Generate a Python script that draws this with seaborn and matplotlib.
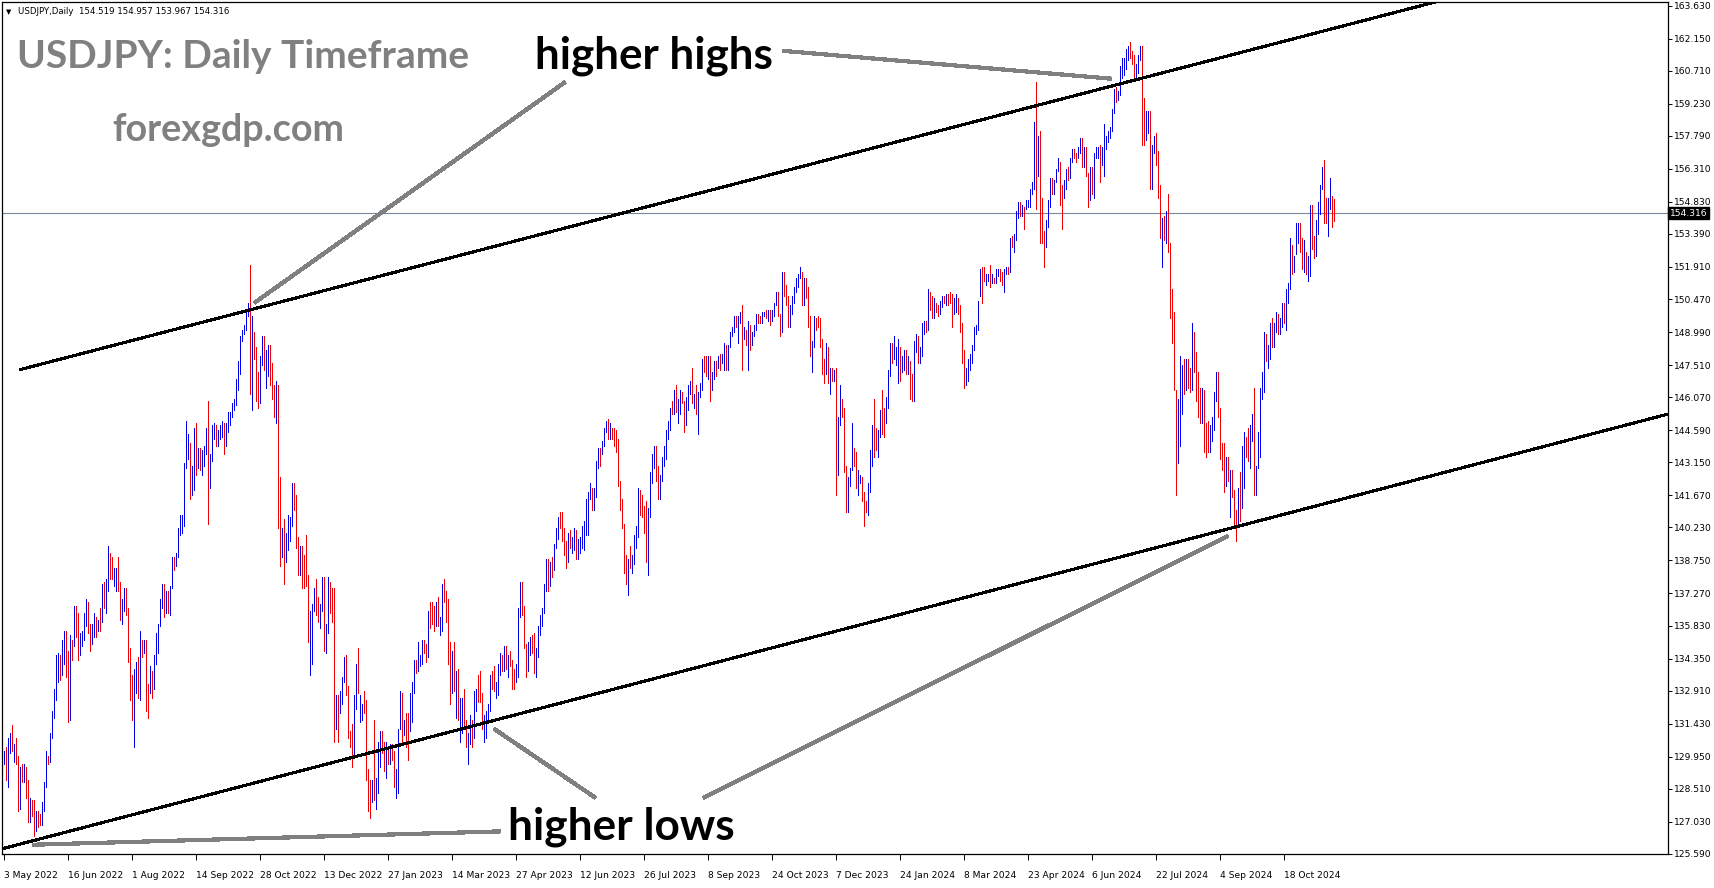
"""USDJPY daily bar chart with a rising channel, MT4 look."""

import matplotlib

matplotlib.use("Agg")

import matplotlib.pyplot as plt
import matplotlib.transforms as mtransforms
import numpy as np
import pandas as pd
import seaborn as sns

# daily highs / lows, one row per month (weekdays as the broker prints them)
highs_2022 = [
    130.2, 130.4, 130.8, 131.0, 131.35, 130.5, 130.8, 130.0, 129.5, 129.6, 129.6, 129.5, 128.9, 128.1, 128.0, 128.0, 127.5, 127.5, 127.4, 127.9, 128.8,
    130.2, 130.0, 131.0, 132.0, 133.0, 134.5, 134.6, 134.5, 135.2, 135.6, 135.6, 134.7, 135.4, 135.2, 136.7, 136.7, 136.4, 135.5, 135.6, 136.4, 137.0, 136.9,
    135.9, 135.9, 136.4, 136.2, 136.1, 136.6, 137.7, 137.8, 137.9, 139.4, 139.1, 138.9, 138.4, 138.4, 138.9, 137.8, 137.0, 137.5, 137.5, 136.6, 134.8,
    133.6, 133.9, 134.2, 134.4, 135.6, 135.2, 135.2, 135.2, 133.2, 134.0, 133.8, 134.5, 135.5, 135.9, 137.0, 137.7, 137.7, 137.4, 137.4, 137.6, 138.9, 138.9, 139.1,
    140.2, 140.8, 140.8, 143.1, 145.0, 144.4, 144.0, 143.0, 144.7, 144.9, 143.8, 143.8, 143.7, 143.9, 144.7, 145.9, 143.5, 144.8, 144.9, 144.8, 144.6, 144.8,
    145.0, 144.9, 144.9, 145.4, 145.4, 145.8, 146.0, 146.9, 147.7, 148.8, 149.1, 149.3, 149.9, 150.3, 152.0, 149.7, 149.0, 148.3, 147.2, 147.9, 148.8,
    148.8, 148.2, 148.4, 148.4, 147.6, 146.6, 146.8, 146.6, 142.5, 140.2, 140.6, 140.0, 140.8, 140.7, 142.2, 142.2, 141.7, 139.8, 139.4, 139.4, 139.0, 139.9,
    138.1, 136.5, 136.8, 137.5, 137.9, 137.1, 136.8, 138.0, 138.0, 135.9, 138.0, 137.8, 137.5, 137.5, 132.7, 132.7, 132.9, 133.5, 134.4, 134.5, 133.1,
]
lows_2022 = [
    129.6, 128.9, 128.6, 130.1, 130.2, 129.7, 129.6, 127.5, 127.6, 128.8, 128.8, 128.1, 127.0, 127.0, 127.3, 126.4, 126.6, 126.8, 126.9, 126.9, 127.5,
    128.6, 129.6, 129.7, 130.8, 131.7, 132.5, 133.3, 133.4, 133.6, 134.1, 133.5, 131.5, 131.6, 134.3, 134.9, 135.3, 134.3, 134.5, 134.9, 135.2, 135.8, 135.5,
    134.7, 135.0, 135.3, 135.3, 135.6, 135.6, 136.0, 136.6, 136.4, 137.4, 137.9, 137.9, 137.6, 137.4, 137.4, 136.1, 135.9, 136.5, 136.3, 134.2, 132.5,
    131.6, 130.4, 132.8, 132.6, 132.5, 134.4, 134.6, 132.0, 131.7, 132.8, 132.6, 133.0, 134.1, 134.6, 135.8, 136.6, 136.2, 136.4, 136.4, 136.3, 137.5, 138.3, 138.5,
    138.9, 139.9, 140.0, 140.3, 142.9, 143.3, 141.5, 141.7, 141.9, 142.6, 142.9, 142.8, 142.6, 143.0, 143.5, 140.4, 142.0, 143.2, 144.2, 143.9, 143.9, 144.2,
    144.3, 143.5, 143.9, 144.5, 144.8, 145.2, 145.5, 145.7, 146.4, 147.1, 148.6, 148.9, 149.1, 149.7, 146.2, 145.5, 147.8, 145.9, 145.6, 145.8, 147.5,
    147.3, 146.5, 147.0, 146.6, 146.0, 145.2, 144.9, 140.2, 138.5, 138.9, 137.7, 138.7, 139.2, 139.6, 140.3, 141.0, 139.3, 138.1, 138.1, 137.5, 137.5, 137.6,
    135.1, 133.6, 134.1, 136.5, 136.3, 136.0, 135.7, 136.5, 134.7, 134.6, 135.5, 136.4, 136.0, 130.6, 131.2, 130.6, 131.9, 132.3, 133.3, 132.7, 130.8,
]
updown_2022 = """
u d u u d u d d u d u d d u d d u d d u u
u d u u u u u d u u d d u d u d d u u u u d
d u u d u d u d u u d d u u d d u u d d d
d u u d u d u d d u d u u u u u d u d u u d u
u u u u u u d u u d u d u u u d u u u d u u
u d u u u u u u u u u u u u d u d d d u u
d u u d d d u d d u d u u u u d d d u d d d
d u u u d d u u d u u d d d u d u u u d d
"""

highs_2023 = [
    131.1, 131.4, 132.7, 134.1, 134.8, 132.7, 132.3, 132.9, 132.5, 129.4, 128.9, 128.9, 131.6, 129.0, 130.6, 131.1, 131.1, 130.6, 130.6, 130.4, 130.5, 130.5,
    130.2, 129.4, 131.2, 132.9, 132.8, 131.6, 131.9, 131.9, 132.8, 133.3, 134.3, 134.3, 135.1, 134.5, 135.2, 135.2, 135.0, 136.5, 136.9, 136.9,
    136.7, 136.9, 137.1, 136.2, 137.7, 137.9, 137.4, 137.0, 135.1, 134.7, 135.1, 133.8, 133.9, 132.6, 132.6, 133.0, 131.6, 131.0, 131.8, 131.6, 132.9, 133.0, 133.6,
    133.8, 132.8, 131.8, 132.0, 132.3, 133.6, 133.8, 134.0, 133.3, 134.1, 134.6, 134.5, 134.9, 134.9, 134.5, 134.7, 134.3, 133.9, 134.1, 136.6,
    137.8, 137.8, 136.7, 135.0, 135.1, 135.3, 135.4, 135.5, 134.8, 135.8, 136.3, 136.6, 137.7, 138.8, 138.8, 138.7, 138.9, 139.5, 140.2, 140.7, 140.9, 140.9, 140.2,
    139.6, 140.0, 140.1, 139.8, 140.2, 140.1, 139.7, 139.8, 140.3, 140.5, 141.5, 141.8, 142.2, 142.0, 142.0, 143.2, 143.8, 143.8, 144.1, 144.7, 145.0, 145.1,
    144.9, 144.7, 144.7, 144.6, 144.2, 142.3, 141.5, 140.4, 139.0, 138.8, 139.4, 139.0, 139.9, 140.3, 142.0, 141.9, 141.7, 141.2, 141.4, 141.1, 142.7,
    143.5, 143.9, 143.9, 143.0, 142.6, 143.4, 143.9, 144.6, 145.0, 145.6, 145.9, 146.4, 146.6, 146.0, 146.4, 146.3, 145.9, 146.1, 146.6, 146.8, 147.4, 146.2, 146.6,
    146.3, 146.7, 147.8, 147.9, 147.9, 147.9, 147.9, 147.2, 147.7, 147.7, 147.9, 148.0, 148.0, 148.5, 148.4, 148.4, 149.0, 149.2, 149.7, 149.7, 149.7,
    149.9, 150.2, 149.2, 149.1, 149.5, 149.3, 149.0, 149.3, 149.8, 149.8, 149.7, 149.9, 149.9, 150.0, 150.0, 150.0, 150.0, 150.3, 150.8, 150.8, 149.8, 151.7,
    151.7, 151.1, 150.6, 150.2, 150.6, 151.0, 151.4, 151.6, 151.9, 151.7, 151.4, 151.4, 151.0, 149.7, 148.6, 149.7, 149.6, 149.7, 149.6, 148.7, 147.8, 148.5,
    148.3, 147.4, 147.4, 147.3, 147.4, 145.2, 146.6, 146.0, 145.6, 143.0, 142.5, 142.9, 144.9, 143.8, 143.6, 142.8, 142.6, 142.5, 141.8, 141.4,
]
lows_2023 = [
    130.4, 129.5, 129.9, 132.1, 132.8, 131.5, 131.6, 131.9, 128.9, 127.5, 127.2, 127.9, 128.0, 127.6, 128.3, 129.5, 130.1, 129.3, 129.0, 129.6, 129.6, 129.8,
    128.6, 128.1, 128.3, 131.2, 130.5, 130.9, 130.4, 129.8, 131.1, 131.5, 132.8, 133.7, 133.8, 134.0, 134.1, 134.6, 134.2, 134.4, 135.7, 135.9,
    135.6, 135.8, 135.8, 135.4, 135.6, 136.9, 136.0, 134.1, 132.3, 132.8, 132.9, 131.7, 131.6, 130.6, 131.0, 131.3, 130.4, 129.6, 130.5, 130.4, 130.8, 132.0, 132.4,
    132.4, 131.2, 130.6, 130.8, 131.5, 132.0, 133.0, 132.9, 132.6, 132.7, 133.6, 133.8, 133.8, 133.9, 133.5, 134.0, 133.0, 133.0, 133.3, 133.5,
    136.2, 136.3, 134.8, 133.5, 133.8, 134.5, 134.6, 133.7, 133.5, 134.4, 135.4, 135.8, 136.4, 137.4, 137.4, 137.6, 138.0, 138.3, 139.3, 139.7, 140.2, 139.6, 139.0,
    138.4, 138.7, 139.3, 139.1, 139.2, 138.8, 138.8, 139.1, 139.3, 139.2, 139.9, 139.9, 141.5, 141.0, 141.0, 141.6, 142.9, 143.0, 143.5, 143.9, 144.5, 144.2,
    144.2, 144.2, 143.9, 143.6, 142.1, 141.0, 140.2, 138.2, 137.7, 137.2, 138.4, 138.2, 138.6, 139.3, 139.8, 140.8, 140.7, 140.0, 138.7, 138.1, 140.7,
    142.2, 142.9, 142.3, 141.5, 141.5, 142.3, 143.0, 143.3, 144.2, 144.6, 145.3, 145.3, 145.4, 144.9, 145.3, 145.8, 144.5, 144.8, 145.5, 146.2, 145.8, 145.6, 145.3,
    144.4, 146.1, 146.4, 147.2, 147.0, 146.9, 145.9, 146.4, 146.9, 147.0, 147.4, 147.3, 147.6, 147.3, 147.3, 147.3, 148.3, 148.8, 149.0, 149.2, 148.5,
    149.4, 147.3, 148.7, 148.4, 147.3, 148.2, 148.4, 148.8, 149.1, 149.4, 149.4, 149.4, 149.7, 149.6, 149.5, 149.3, 149.5, 149.7, 150.2, 149.7, 148.8, 149.0,
    150.6, 150.2, 149.2, 149.2, 149.8, 150.3, 150.8, 151.0, 151.4, 150.2, 150.2, 150.5, 149.2, 147.9, 147.2, 148.3, 149.1, 149.2, 148.3, 147.1, 146.7, 147.1,
    146.7, 146.2, 146.8, 146.8, 141.7, 142.6, 144.8, 145.2, 142.7, 140.9, 140.9, 142.1, 142.8, 143.0, 142.0, 141.7, 142.2, 141.4, 140.3, 140.9,
]
updown_2023 = """
d d u u d u u d d d d u d u u u d d u d u d
d u u u d u d d u u u d u u u d d u d d
d u d u u d d d d u d u d u u d d u u d u u d
d d u u u u d d u u u d u d u d d d u u
u d d d u u d d u u u u u u d u d u u u d d d
d u d u u d u u u u u u u d u u u d u u u d
u d d d d d d d d u d u u u u d d d d u u
u u d d u u u u u u d u d u u d d u u u d u d
u u u d d u d u u d u d u u d u u u u d u
u d u d u d u u u d d u u d u d u u u d d u
d d d u u u u u u d u d d d u u d d d d d u
d u d u d u u d d d u u u d d u u d d d
"""

highs_2024 = [
    142.2, 143.7, 144.8, 146.0, 144.7, 144.6, 145.5, 146.4, 145.6, 146.1, 147.3, 148.5, 148.5, 148.8, 148.3, 148.7, 148.3, 147.9, 148.2, 148.2, 147.9, 147.7,
    147.1, 148.6, 148.9, 148.8, 148.3, 149.4, 149.5, 149.5, 150.9, 150.8, 150.6, 150.5, 150.3, 150.2, 150.4, 150.6, 150.6, 150.7, 150.7, 150.8, 150.7,
    150.5, 150.7, 150.5, 150.2, 149.4, 148.2, 147.4, 147.8, 148.0, 148.4, 149.2, 149.3, 150.4, 151.8, 151.9, 151.9, 151.6, 151.6, 152.0, 151.6, 151.4,
    151.8, 151.8, 151.8, 151.7, 151.8, 151.9, 151.9, 153.2, 153.3, 153.4, 154.4, 154.8, 154.8, 154.7, 154.6, 154.9, 154.9, 155.4, 155.7, 158.4, 160.2, 157.8,
    158.0, 155.0, 153.5, 154.0, 154.9, 155.9, 155.9, 155.8, 156.3, 156.8, 156.6, 155.6, 155.8, 156.3, 156.4, 156.8, 157.2, 157.2, 157.0, 157.3, 157.7, 157.7, 157.3,
    157.3, 156.1, 156.4, 156.4, 157.0, 157.3, 157.3, 157.4, 157.3, 158.3, 157.8, 158.0, 158.2, 159.0, 159.9, 160.0, 159.8, 160.9, 161.3, 161.3,
    161.7, 161.8, 162.0, 161.6, 161.4, 161.0, 161.4, 161.8, 161.8, 159.5, 158.9, 158.9, 158.9, 157.4, 157.8, 157.9, 157.1, 155.6, 154.1, 154.2, 154.4, 155.2, 153.0,
    150.9, 149.9, 146.4, 146.0, 147.9, 147.5, 147.8, 147.8, 147.8, 147.4, 149.4, 149.0, 148.1, 147.2, 146.5, 146.5, 146.4, 144.9, 145.0, 144.8, 145.2, 146.3,
    147.2, 147.2, 145.6, 144.0, 144.0, 143.4, 143.4, 142.8, 142.8, 141.9, 141.0, 142.0, 142.7, 143.9, 144.5, 144.3, 144.7, 144.8, 145.3, 146.5, 143.0,
    144.5, 146.5, 147.2, 149.0, 148.9, 148.4, 149.4, 149.6, 149.4, 149.9, 149.8, 149.6, 150.3, 150.3, 150.9, 151.2, 153.2, 152.9, 152.4, 153.9, 153.9, 153.9, 153.2,
    153.1, 152.6, 152.4, 154.7, 154.7, 153.3, 154.0, 154.8, 155.6, 156.4, 156.7, 155.0, 155.0, 155.9, 155.1, 154.957,
]
lows_2024 = [
    140.8, 141.8, 143.0, 143.4, 143.7, 143.4, 144.3, 144.4, 144.3, 144.9, 145.6, 147.0, 147.6, 147.8, 147.5, 146.7, 146.8, 147.2, 147.3, 147.1, 147.1, 146.0,
    145.9, 145.9, 148.1, 147.6, 147.6, 147.9, 148.9, 149.0, 149.1, 150.0, 149.6, 149.6, 149.9, 149.7, 149.8, 150.1, 150.3, 150.2, 150.2, 150.3, 149.2,
    149.8, 149.9, 149.8, 149.0, 147.6, 146.5, 146.6, 146.8, 147.3, 147.6, 148.2, 148.9, 149.1, 150.6, 150.3, 151.3, 151.1, 151.3, 151.0, 151.2, 151.2,
    151.2, 151.5, 151.3, 151.1, 150.8, 151.6, 151.6, 151.7, 152.8, 152.6, 153.1, 154.1, 154.2, 154.2, 153.6, 154.5, 154.6, 154.6, 155.2, 155.4, 154.5, 156.0,
    153.0, 153.0, 151.9, 152.8, 153.7, 154.6, 155.2, 155.2, 155.7, 156.2, 154.7, 153.6, 155.0, 155.4, 155.8, 155.9, 156.6, 156.8, 156.6, 156.8, 157.0, 156.4, 156.4,
    156.0, 154.6, 154.9, 155.2, 155.0, 156.8, 156.8, 155.7, 156.5, 156.0, 157.2, 157.5, 157.7, 158.0, 158.8, 159.3, 159.4, 159.6, 160.4, 160.5,
    160.8, 161.2, 161.3, 161.0, 160.3, 160.3, 160.6, 161.2, 157.4, 157.4, 157.6, 157.9, 155.4, 155.4, 157.0, 156.5, 155.0, 153.2, 151.9, 153.1, 153.0, 152.6, 149.6,
    148.5, 146.4, 141.7, 143.1, 143.9, 145.3, 146.2, 146.4, 146.5, 146.3, 146.4, 147.2, 145.9, 145.2, 144.9, 144.9, 143.6, 143.4, 143.6, 143.6, 144.1, 144.6,
    145.9, 145.2, 143.3, 142.8, 141.8, 142.1, 142.3, 140.7, 141.6, 140.3, 139.6, 140.4, 140.5, 141.1, 142.0, 143.4, 143.2, 142.9, 144.1, 141.7, 141.7,
    142.9, 143.4, 146.0, 146.3, 147.7, 147.4, 147.8, 148.3, 148.3, 149.0, 148.9, 148.9, 149.2, 149.4, 149.1, 150.3, 150.9, 151.6, 151.7, 152.5, 153.0, 152.6, 151.8,
    151.7, 151.6, 151.3, 151.5, 152.7, 152.3, 152.4, 153.4, 154.3, 155.4, 153.9, 153.9, 153.3, 154.5, 153.7, 153.967,
]
updown_2024 = """
u u u d d u u d d u u u d u u u d u u d u d
d u u d u u u d u d d u d d u u d u d d d
u u d d d d u u u u u u u u d d u u d u d
u u d d u u d u d u u u d u d u u u u u d u
d d d u u u d u u u d d u u d u u d d u u d u
d d u d u u u d u u u u u u u d u u u u
u u d d d u u u d d u u d u u d d d u d u d d
d d d u u u d u d d u d d d d u d d d u u u
u d d d d u d u d d d u d u u d d u u d u
u u u u d u u d u u d u u d u u u d u u u d d
u d u u d d u u u u d d u u d d
"""

date_labels = [
    "3 May 2022", "16 Jun 2022", "1 Aug 2022", "14 Sep 2022", "28 Oct 2022", "13 Dec 2022",
    "27 Jan 2023", "14 Mar 2023", "27 Apr 2023", "12 Jun 2023", "26 Jul 2023", "8 Sep 2023",
    "24 Oct 2023", "7 Dec 2023", "24 Jan 2024", "8 Mar 2024", "23 Apr 2024", "6 Jun 2024",
    "22 Jul 2024", "4 Sep 2024", "18 Oct 2024",
]
price_ticks = [
    125.590, 127.030, 128.510, 129.950, 131.430, 132.910, 134.350, 135.830, 137.270,
    138.750, 140.230, 141.670, 143.150, 144.590, 146.070, 147.510, 148.990, 150.470,
    151.910, 153.390, 154.830, 156.310, 157.790, 159.230, 160.710, 162.150, 163.630,
]
last_ohlc = [154.519, 154.957, 153.967, 154.316]

# trend lines as (bar index, price) end points
upper_channel = [(8, 147.30), (760, 164.82)]
lower_channel = [(-2, 125.79), (833, 145.33)]
pointers = [
    [(125.4, 150.3), (280.8, 160.2)],
    [(389.5, 161.6), (554.0, 160.35)],
    [(14.6, 126.0), (248.5, 126.6)],
    [(245.2, 131.2), (296.0, 128.1)],
    [(349.7, 128.1), (612.3, 139.85)],
]

highs = highs_2022 + highs_2023 + highs_2024
lows = lows_2022 + lows_2023 + lows_2024
updown = (updown_2022 + updown_2023 + updown_2024).split()
assert len(highs) == len(lows) == len(updown), (len(highs), len(lows), len(updown))

bars = pd.DataFrame({"high": highs, "low": lows, "dir": updown})
bars["bar"] = np.arange(len(bars))

W, H = 1714, 888
BLUE = "#0000e6"
RED = "#f00000"
GREY = "#808080"


def fx(x_px, y_px):
    return x_px / W, 1 - y_px / H


sns.set_theme(style="white")
plt.rcParams["font.family"] = ["DejaVu Sans"]

fig = plt.figure(figsize=(W / 100, H / 100), dpi=100)
fig.patch.set_facecolor("white")
ax = fig.add_axes([2 / W, 34 / H, 1666 / W, 852 / H])
ax.set_facecolor("white")

for key, colour in (("u", BLUE), ("d", RED)):
    sub = bars[bars["dir"] == key]
    ax.vlines(sub["bar"], sub["low"], sub["high"], colors=colour, linewidth=0.7,
              antialiased=False, zorder=2)

ax.axhline(last_ohlc[3], color="#778899", linewidth=0.8, zorder=1)

for line in (upper_channel, lower_channel):
    (x0, y0), (x1, y1) = line
    ax.plot([x0, x1], [y0, y1], color="black", linewidth=1.5, antialiased=False,
            solid_capstyle="butt", zorder=3)
for (x0, y0), (x1, y1) in pointers:
    ax.plot([x0, x1], [y0, y1], color=GREY, linewidth=2.3, antialiased=False,
            solid_capstyle="butt", zorder=4)

ax.set_xlim(-0.8, 832.2)
ax.set_ylim(125.585, 163.79)

ax.set_xticks(np.arange(len(date_labels)) * 32)
ax.set_xticklabels(date_labels, ha="left")
ax.yaxis.tick_right()
ax.set_yticks(price_ticks)
ax.set_yticklabels([f"{v:.3f}" for v in price_ticks])
ax.tick_params(axis="x", bottom=True, length=4, width=0.7, pad=8, labelsize=6.6,
               colors="black", direction="out")
ax.tick_params(axis="y", right=True, left=False, length=3, width=0.7, pad=1.5,
               labelsize=6.6, colors="black", direction="out")
for spine in ax.spines.values():
    spine.set_visible(True)
    spine.set_color("black")
    spine.set_linewidth(0.9)
ax.grid(False)

# current price box on the price scale
blend = mtransforms.blended_transform_factory(ax.transAxes, ax.transData)
ax.text(1.0012, last_ohlc[3], f"{last_ohlc[3]:.3f}", transform=blend, ha="left",
        va="center", fontsize=6.6, color="white", zorder=6,
        bbox=dict(boxstyle="square,pad=0.18", facecolor="black", edgecolor="black"))

# header line
fig.text(*fx(6, 12), "\u25bc", fontsize=5, color="black", va="center", ha="left")
fig.text(*fx(18, 12),
         "USDJPY,Daily  " + " ".join(f"{v:.3f}" for v in last_ohlc),
         fontsize=6.2, color="black", va="center", ha="left")

big = dict(family=["Lato", "DejaVu Sans"], fontweight="bold")
fig.text(*fx(17, 68), "USDJPY: Daily Timeframe", fontsize=28, color=GREY,
         va="baseline", ha="left", **big)
fig.text(*fx(112, 141), "forexgdp.com", fontsize=27.2, color=GREY,
         va="baseline", ha="left", **big)
fig.text(*fx(535, 68), "higher highs", fontsize=31.7, color="black",
         va="baseline", ha="left", **big)
fig.text(*fx(508, 839), "higher lows", fontsize=31.8, color="black",
         va="baseline", ha="left", **big)

fig.savefig("out.png", dpi=100)
plt.close(fig)
